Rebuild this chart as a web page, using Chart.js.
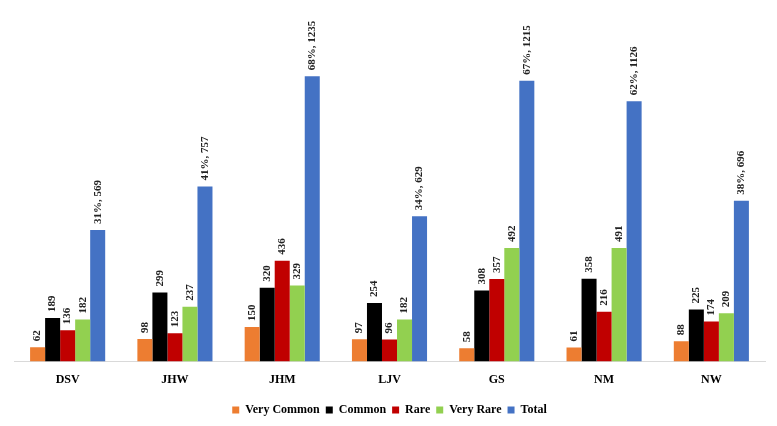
<!DOCTYPE html>
<html>
<head>
<meta charset="utf-8">
<script src="https://cdn.jsdelivr.net/npm/chart.js"></script>
<style>
  html, body { margin: 0; padding: 0; background: #fff; }
  #wrap { width: 777px; height: 426px; }
</style>
</head>
<body>
<div id="wrap"><canvas id="bar-chart"></canvas></div>
<script>
var sites = ["DSV", "JHW", "JHM", "LJV", "GS", "NM", "NW"];
var veryCommon = [62, 98, 150, 97, 58, 61, 88];
var common = [189, 299, 320, 254, 308, 358, 225];
var rare = [136, 123, 436, 96, 357, 216, 174];
var veryRare = [182, 237, 329, 182, 492, 491, 209];
var total = [569, 757, 1235, 629, 1215, 1126, 696];
var totalPct = ["31%", "41%", "68%", "34%", "67%", "62%", "38%"];

var serif = "'Liberation Serif', 'Times New Roman', serif";

// rotated value labels above each bar
var barLabels = {
  id: 'barLabels',
  afterDatasetsDraw: function(chart) {
    var ctx = chart.ctx;
    ctx.save();
    ctx.font = "bold 11px " + serif;
    ctx.fillStyle = "#222";
    ctx.textAlign = "left";
    ctx.textBaseline = "middle";
    chart.data.datasets.forEach(function(ds, di) {
      var meta = chart.getDatasetMeta(di);
      meta.data.forEach(function(bar, i) {
        var txt = ds.label == "Total" ? totalPct[i] + ", " + ds.data[i] : String(ds.data[i]);
        ctx.save();
        ctx.translate(bar.x, bar.y - 6);
        ctx.rotate(-Math.PI / 2);
        ctx.fillText(txt, 0, 0);
        ctx.restore();
      });
    });
    ctx.restore();
  }
};

new Chart(document.getElementById("bar-chart"), {
  type: 'bar',
  data: {
    labels: sites,
    datasets: [
      { label: "Very Common", backgroundColor: "#ED7D31", data: veryCommon },
      { label: "Common", backgroundColor: "#000000", data: common },
      { label: "Rare", backgroundColor: "#C00000", data: rare },
      { label: "Very Rare", backgroundColor: "#92D050", data: veryRare },
      { label: "Total", backgroundColor: "#4472C4", data: total }
    ]
  },
  options: {
    responsive: true,
    maintainAspectRatio: false,
    animation: false,
    layout: { padding: { left: 14, right: 12, top: 38, bottom: 0 } },
    datasets: { bar: { barPercentage: 1.0, categoryPercentage: 0.7 } },
    scales: {
      x: {
        grid: { display: false, drawTicks: false },
        border: { color: "#d9d9d9", width: 1 },
        ticks: { color: "#000", padding: 11, font: { family: serif, size: 12, weight: "bold" } }
      },
      y: {
        display: false,
        min: 0,
        max: 1400
      }
    },
    plugins: {
      legend: {
        position: 'bottom',
        labels: {
          color: "#000",
          boxWidth: 7,
          boxHeight: 7,
          padding: 6,
          font: { family: serif, size: 12, weight: "bold" }
        }
      },
      tooltip: { enabled: false }
    }
  },
  plugins: [barLabels]
});
</script>
</body>
</html>
